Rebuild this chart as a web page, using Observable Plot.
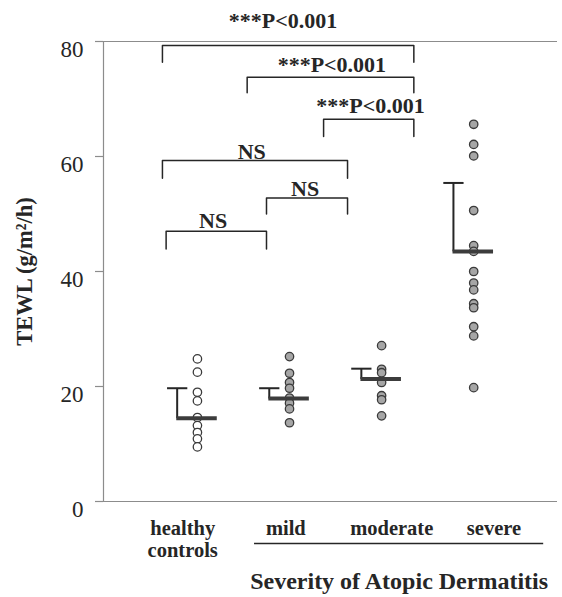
<!DOCTYPE html>
<html>
<head>
<meta charset="utf-8">
<script src="https://cdn.jsdelivr.net/npm/d3@7"></script>
<script src="https://cdn.jsdelivr.net/npm/@observablehq/plot@0.6"></script>
<style>
  html, body { margin: 0; padding: 0; background: #fff; }
  #chart svg { display: block; }
</style>
</head>
<body>
<div id="chart"></div>
<script>
// Transepidermal water loss by group
const groups = ["healthy controls", "mild", "moderate", "severe"];
const groupLabels = ["healthy\ncontrols", "mild", "moderate", "severe"];
const healthy = [24.8, 22.5, 19.0, 17.5, 14.6, 13.2, 12.0, 10.9, 9.5];
const mild = [25.2, 22.3, 20.7, 19.7, 18.0, 17.1, 16.1, 13.7];
const moderate = [27.1, 23.0, 22.4, 20.7, 18.4, 17.7, 14.9];
const severe = [65.6, 62.1, 60.1, 50.6, 44.5, 43.5, 40.0, 38.0, 36.8, 34.4, 33.7, 30.4, 28.8, 19.8];
const means = [14.5, 17.9, 21.3, 43.5];
const sds = [5.2, 1.8, 1.8, 11.9];
const yTicks = [0, 20, 40, 60, 80];
const comparisonLabels = ["***P<0.001", "***P<0.001", "***P<0.001", "NS", "NS", "NS"];

// Layout: bracket geometry in group units / TEWL units
const bracketLayout = [
  {x1: -0.38, x2: 2.35, top: 79.3, drop: 2.9, lx: 0.93, ldy: -18},
  {x1: 0.54, x2: 2.35, top: 73.8, drop: 2.7, lx: 1.46, ldy: -5},
  {x1: 1.37, x2: 2.35, top: 66.5, drop: 3.0, lx: 1.88, ldy: -6},
  {x1: -0.38, x2: 1.63, top: 59.3, drop: 3.1, lx: 0.59, ldy: -2},
  {x1: 0.75, x2: 1.63, top: 52.8, drop: 2.8, lx: 1.17, ldy: -2},
  {x1: -0.34, x2: 0.75, top: 47.0, drop: 3.1, lx: 0.17, ldy: -3}
];
const labelShift = [-0.16, -0.04, 0.11, 0.22];
const xDomain = [-1.02, 3.91];

const series = [healthy, mild, moderate, severe];
const points = series.flatMap((vals, g) => vals.map(v => ({g, v})));
const stats = means.map((m, g) => ({g, mean: m, upper: m + sds[g]}));
const bracketPaths = bracketLayout.flatMap((b, k) => [
  {k, x: b.x1, y: b.top - b.drop},
  {k, x: b.x1, y: b.top},
  {k, x: b.x2, y: b.top},
  {k, x: b.x2, y: b.top - b.drop}
]);

const serif = "'Liberation Serif', 'Times New Roman', serif";
const ink = "#262626";

// one text mark per comparison label so each can have its own offset
const bracketTextMarks = bracketLayout.map((b, k) =>
  Plot.text([comparisonLabels[k]], {
    x: () => b.lx, y: () => b.top, dy: b.ldy, text: d => d,
    lineAnchor: "bottom", fontSize: 22, fontWeight: "bold", fontFamily: serif, fill: ink
  })
);

const chart = Plot.plot({
  width: 562,
  height: 597,
  marginLeft: 103,
  marginRight: 5,
  marginTop: 41,
  marginBottom: 96,
  style: {fontFamily: serif, background: "#fff", color: ink},
  x: {domain: xDomain, axis: null},
  y: {domain: [0, 80]},
  marks: [
    // plot border: left axis line, top and bottom lines
    Plot.ruleX([xDomain[0]], {y1: 0, y2: 80, stroke: "#8c8c8c", strokeWidth: 1.2}),
    Plot.ruleY([0, 80], {stroke: "#8c8c8c", strokeWidth: 1.2}),
    Plot.axisY({ticks: yTicks, tickSize: 8, tickFormat: () => "", stroke: "#8c8c8c", strokeWidth: 1.2, label: null}),
    Plot.text(yTicks, {y: d => d, frameAnchor: "left", textAnchor: "end", dx: -20, dy: 8, fontSize: 23, fontFamily: serif, fill: ink}),
    Plot.text(["TEWL (g/m²/h)"], {frameAnchor: "left", textAnchor: "middle", dx: -79, rotate: -90, fontSize: 22.5, fontWeight: "bold", fontFamily: serif, fill: ink}),

    // significance brackets
    Plot.line(bracketPaths, {x: "x", y: "y", z: "k", stroke: ink, strokeWidth: 1.5, curve: "linear"}),
    ...bracketTextMarks,

    // individual measurements
    Plot.dot(points, {x: "g", y: "v", r: 4.2, fill: d => d.g === 0 ? "#ffffff" : "#a6a6a6", stroke: "#3a3a3a", strokeWidth: 1.3}),

    // mean and SD
    Plot.link(stats, {x1: d => d.g - 0.22, x2: d => d.g - 0.22, y1: "mean", y2: "upper", stroke: ink, strokeWidth: 2}),
    Plot.link(stats, {x1: d => d.g - 0.33, x2: d => d.g - 0.11, y1: "upper", y2: "upper", stroke: ink, strokeWidth: 2}),
    Plot.link(stats, {x1: d => d.g - 0.23, x2: d => d.g + 0.21, y1: "mean", y2: "mean", stroke: "#3c3c3c", strokeWidth: 4}),

    // category labels and group title
    Plot.text(groupLabels, {x: (d, i) => i + labelShift[i], frameAnchor: "bottom", lineAnchor: "top", dy: 17.5, lineHeight: 1.08, fontSize: 20.5, fontWeight: "bold", fontFamily: serif, fill: ink}),
    Plot.ruleY([0], {x1: 0.62, x2: 3.76, dy: 42, stroke: ink, strokeWidth: 1.6}),
    Plot.text(["Severity of Atopic Dermatitis"], {x: 2.19, frameAnchor: "bottom", lineAnchor: "bottom", dy: 87, fontSize: 24, fontWeight: "bold", fontFamily: serif, fill: ink})
  ]
});

document.getElementById("chart").appendChild(chart);
</script>
</body>
</html>
